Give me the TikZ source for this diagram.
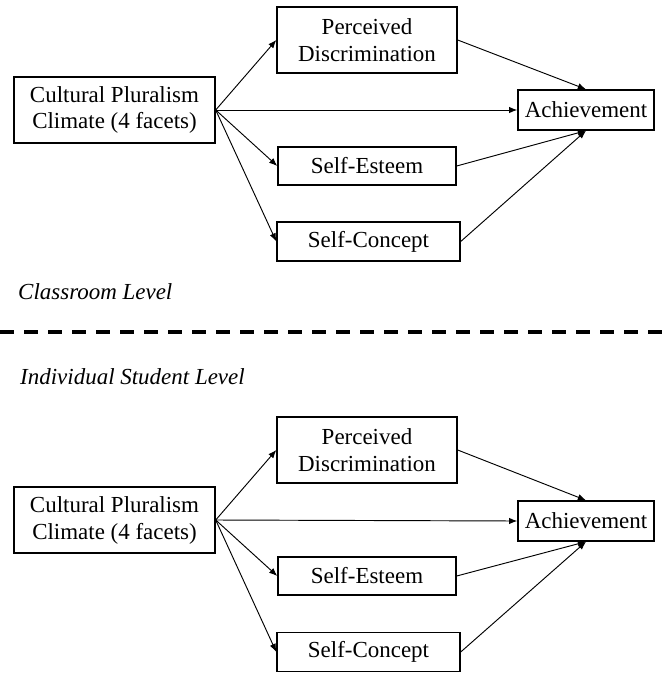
\documentclass[tikz,border=0pt]{standalone}
\usepackage{fontspec}
\setmainfont{Liberation Serif}
\usepackage{tikz}
\usetikzlibrary{arrows.meta,positioning}
\tikzset{
    box/.style={rectangle, draw, line width=1.2pt, fill=white, align=center, inner sep=2pt, font=\fontsize{19.6}{23}\selectfont},
    link/.style={draw, line width=0.8pt, -{Latex[length=7pt,width=5.5pt]}},
    levellabel/.style={anchor=west, inner sep=0pt, font=\fontsize{19.6}{23}\selectfont\itshape},
    divider/.style={line width=3.4pt, dash pattern=on 11.9pt off 8.6pt}
}

\begin{document}
\begin{tikzpicture}[x=0.03cm, y=-0.03cm]
    \useasboundingbox (0,0) rectangle (670,673);

    % Classroom level
    \node[box, minimum width=201*0.03cm, minimum height=66*0.03cm] at (114.5,110) (cpc1) {Cultural Pluralism\\Climate (4 facets)};
    \node[box, minimum width=180*0.03cm, minimum height=66*0.03cm] at (367,40) (pd1) {Perceived\\Discrimination};
    \node[box, minimum width=178*0.03cm, minimum height=38*0.03cm] at (367,166) (se1) {Self-Esteem};
    \node[box, minimum width=183*0.03cm, minimum height=39*0.03cm] at (368.5,241.5) (sc1) {Self-Concept};
    \node[box, minimum width=136*0.03cm, minimum height=40*0.03cm] at (586,110) (ach1) {Achievement};

    \draw[link] (cpc1.east) -- (pd1.west);
    \draw[link] (cpc1.east) -- (se1.west);
    \draw[link] (cpc1.east) -- (sc1.west);
    \draw[link] (cpc1.east) -- (ach1.west);
    \draw[link] (pd1.east) -- (ach1.north);
    \draw[link] (se1.east) -- (ach1.south);
    \draw[link] (sc1.east) -- (ach1.south);

    \node[levellabel] at (18,292) (lvl1) {Classroom Level};

    % Divider
    \draw[divider] (0,332) -- (670,332);

    \node[levellabel] at (20,377) (lvl2) {Individual Student Level};

    % Individual student level
    \node[box, minimum width=201*0.03cm, minimum height=66*0.03cm] at (114.5,520) (cpc2) {Cultural Pluralism\\Climate (4 facets)};
    \node[box, minimum width=180*0.03cm, minimum height=66*0.03cm] at (367,450) (pd2) {Perceived\\Discrimination};
    \node[box, minimum width=178*0.03cm, minimum height=38*0.03cm] at (367,576) (se2) {Self-Esteem};
    \node[box, minimum width=183*0.03cm, minimum height=39*0.03cm] at (368.5,652) (sc2) {Self-Concept};
    \node[box, minimum width=136*0.03cm, minimum height=40*0.03cm] at (586,521) (ach2) {Achievement};

    \draw[link] (cpc2.east) -- (pd2.west);
    \draw[link] (cpc2.east) -- (se2.west);
    \draw[link] (cpc2.east) -- (sc2.west);
    \draw[link] (cpc2.east) -- (ach2.west);
    \draw[link] (pd2.east) -- (ach2.north);
    \draw[link] (se2.east) -- (ach2.south);
    \draw[link] (sc2.east) -- (ach2.south);
\end{tikzpicture}
\end{document}
